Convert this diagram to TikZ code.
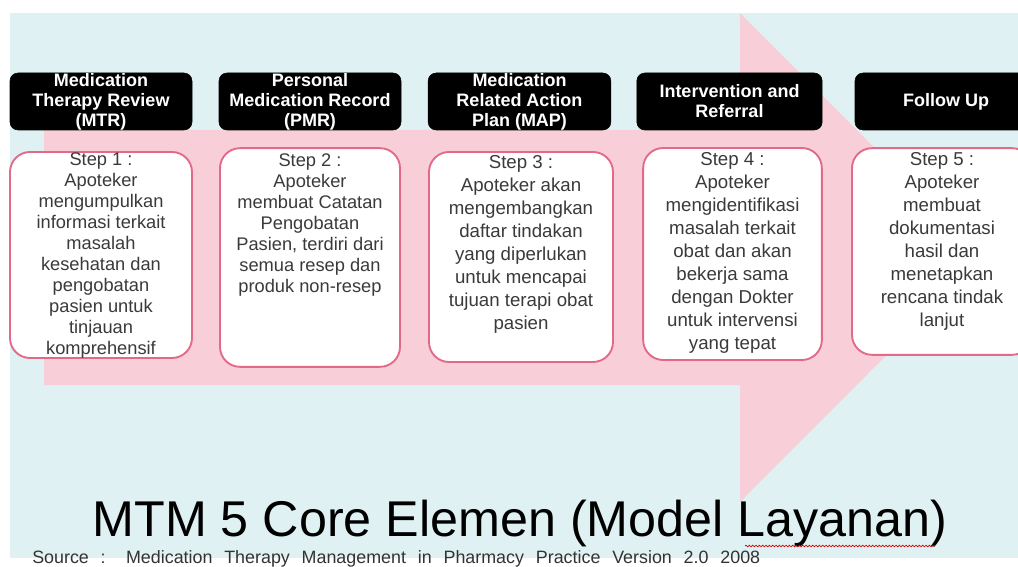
\documentclass[tikz,border=0pt]{standalone}
\usepackage{fontspec}
\setmainfont{Liberation Sans}
\usetikzlibrary{positioning,decorations.pathmorphing}

\definecolor{panelblue}{RGB}{223,241,242}
\definecolor{arrowpink}{RGB}{248,207,216}
\definecolor{boxline}{RGB}{228,104,136}
\definecolor{steptext}{RGB}{58,58,58}

\tikzset{
  headbox/.style={draw=black, fill=black, rounded corners=6pt, text=white,
    minimum height=42.75pt, inner sep=0pt, align=center,
    font=\bfseries\fontsize{13.5}{15}\selectfont},
  stepbox/.style={draw=boxline, line width=1.4pt, fill=white, rounded corners=15pt,
    inner sep=0pt},
  steptxt/.style={anchor=north, inner sep=0pt, align=center, text=steptext},
  tightlines/.style={font=\fontsize{13.7}{15.75}\selectfont},
  widelines/.style={font=\fontsize{14}{17.25}\selectfont},
}

\begin{document}
\begin{tikzpicture}[x=0.75pt,y=0.75pt,yscale=-1,xscale=1]
\useasboundingbox (0,0) rectangle (1018,567);
\fill[white] (0,0) rectangle (1018,567);

%Shape: Panel
\fill[panelblue] (10,13) rectangle (1030,558);
%Shape: Arrow
\fill[arrowpink] (44,130) -- (740,130) -- (740,13) -- (984,257.5) -- (740,502) -- (740,385) -- (44,385) -- cycle;

% Header boxes
\node[headbox, minimum width=136.5pt] (h1) at (101,101.5) {Medication\\Therapy Review\\(MTR)};
\node[headbox, minimum width=136.5pt] (h2) at (310,101.5) {Personal\\Medication Record\\(PMR)};
\node[headbox, minimum width=137pt] (h3) at (519.5,101.5) {Medication\\Related Action\\Plan (MAP)};
\node[headbox, minimum width=139pt] (h4) at (729.5,101.5) {Intervention and\\Referral};
\node[headbox, minimum width=136.5pt] (h5) at (946,101.5) {Follow Up};

% Step boxes
\node[stepbox, minimum width=136.5pt, minimum height=154.5pt] (s1) at (101,255) {};
\node[stepbox, minimum width=135pt, minimum height=164pt] (s2) at (310,257.5) {};
\node[stepbox, minimum width=138pt, minimum height=157.5pt] (s3) at (521,257) {};
\node[stepbox, minimum width=134pt, minimum height=159pt] (s4) at (732.5,254) {};
\node[stepbox, minimum width=135pt, minimum height=155pt] (s5) at (942,251.5) {};

% Text Node
\node[steptxt, tightlines, below=0.75pt of s1.north] (t1) {Step 1 :\\Apoteker\\mengumpulkan\\informasi terkait\\masalah\\kesehatan dan\\pengobatan\\pasien untuk\\tinjauan\\komprehensif};
% Text Node
\node[steptxt, tightlines, below=4.5pt of s2.north] (t2) {Step 2 :\\Apoteker\\membuat Catatan\\Pengobatan\\Pasien, terdiri dari\\semua resep dan\\produk non-resep};
% Text Node
\node[steptxt, widelines, below=3pt of s3.north] (t3) {Step 3 :\\Apoteker akan\\mengembangkan\\daftar tindakan\\yang diperlukan\\untuk mencapai\\tujuan terapi obat\\pasien};
% Text Node
\node[steptxt, widelines, below=3.75pt of s4.north] (t4) {Step 4 :\\Apoteker\\mengidentifikasi\\masalah terkait\\obat dan akan\\bekerja sama\\dengan Dokter\\untuk intervensi\\yang tepat};
% Text Node
\node[steptxt, widelines, below=3.5pt of s5.north] (t5) {Step 5 :\\Apoteker\\membuat\\dokumentasi\\hasil dan\\menetapkan\\rencana tindak\\lanjut};

% Title
\node[anchor=base, inner sep=0pt, font=\fontsize{37.7}{40}\selectfont] (title) at (520,536) {MTM 5 Core Elemen (Model Layanan)};
\coordinate (wavyA) at (745,546);
\coordinate (wavyB) at (935,546);
\draw[red!85!black, line width=0.5pt, decorate, decoration={snake, amplitude=0.6pt, segment length=2.5pt}] (wavyA) -- (wavyB);

% Source line
\node[anchor=base west, inner sep=0pt, font=\fontsize{13.4}{15}\selectfont, text=black!80] (source) at (32,563.5)
  {\makebox[546pt][s]{Source : Medication Therapy Management in Pharmacy Practice Version 2.0 2008}};
\end{tikzpicture}
\end{document}
